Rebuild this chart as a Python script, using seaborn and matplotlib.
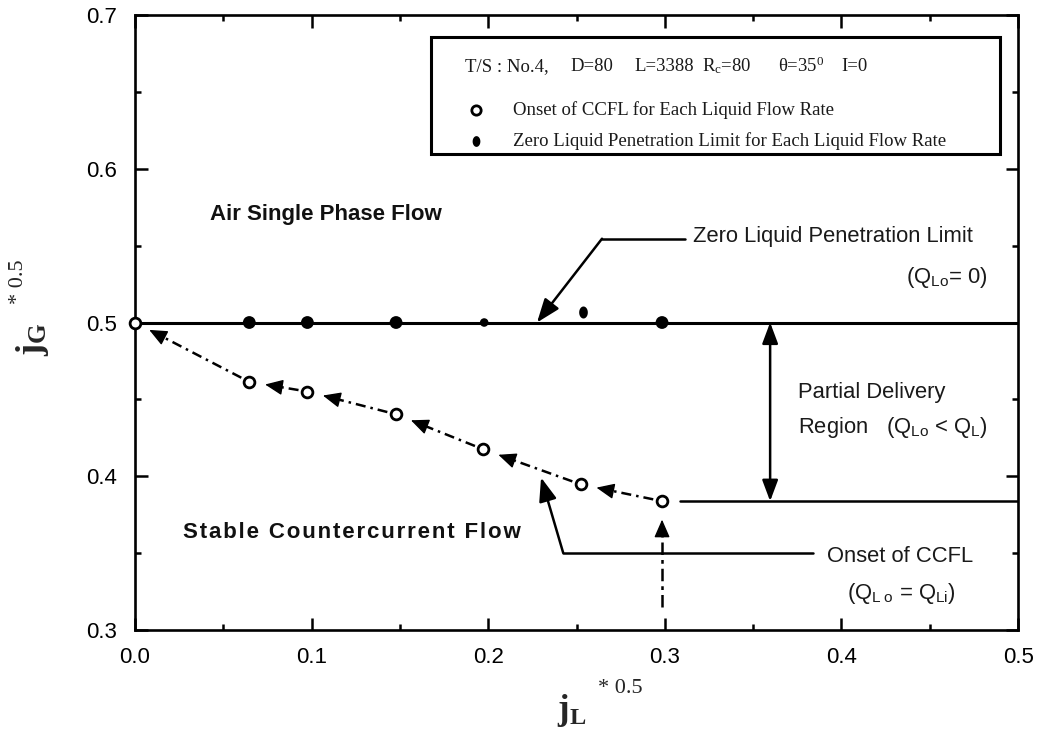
import numpy as np
import pandas as pd
import matplotlib
matplotlib.use("Agg")
import matplotlib.pyplot as plt
from matplotlib.ticker import MultipleLocator
from matplotlib.path import Path
import seaborn as sns

# Onset of CCFL for each liquid flow rate (open circles)
onset_jl = [0.0, 0.0647, 0.0976, 0.1478, 0.1972, 0.2524, 0.2984]
onset_jg = [0.500, 0.4614, 0.4551, 0.4403, 0.4175, 0.3947, 0.3838]

# Zero liquid penetration limit for each liquid flow rate (filled circles)
zlp_jl = [0.0647, 0.0976, 0.1478, 0.1977, 0.2984]
zlp_jg = [0.500, 0.500, 0.500, 0.500, 0.500]
zlp_kind = ["large", "large", "large", "small", "large"]
# one off-line reading, drawn as a slightly elongated dot
zlp_extra_jl = [0.2535]
zlp_extra_jg = [0.507]

zero_limit_jg = 0.5          # Q_Lo = 0 line
xticks = [0.0, 0.1, 0.2, 0.3, 0.4, 0.5]
yticks = [0.3, 0.4, 0.5, 0.6, 0.7]

sns.set_style("ticks")
plt.rcParams["font.family"] = ["Liberation Sans", "DejaVu Sans"]
plt.rcParams["mathtext.fontset"] = "custom"
plt.rcParams["mathtext.rm"] = "Liberation Serif"
plt.rcParams["mathtext.it"] = "Liberation Serif:italic"
plt.rcParams["mathtext.bf"] = "Liberation Serif:bold"
plt.rcParams["mathtext.sf"] = "Liberation Sans"

fig = plt.figure(figsize=(10.41, 7.29), dpi=100)
ax = fig.add_axes([0.1297, 0.1358, 0.8483, 0.8436])

ax.set_xlim(0.0, 0.5)
ax.set_ylim(0.3, 0.7)
ax.set_xticks(xticks)
ax.set_yticks(yticks)
ax.set_xticklabels([f"{v:.1f}" for v in xticks])
ax.set_yticklabels([f"{v:.1f}" for v in yticks])
ax.xaxis.set_minor_locator(MultipleLocator(0.05))
ax.yaxis.set_minor_locator(MultipleLocator(0.05))
ax.tick_params(which="both", direction="in", top=True, right=True,
               width=1.8, colors="black", labelsize=16)
ax.tick_params(which="major", length=9)
ax.tick_params(which="minor", length=4.5)
ax.tick_params(axis="x", pad=12)
ax.tick_params(axis="y", pad=13)
for sp in ax.spines.values():
    sp.set_linewidth(1.9)
    sp.set_color("black")


def dashdot_arrow(p, q, shrink_a=9, shrink_b=16, head_len=15,
                  dashes=(4, 2, 1, 2)):
    """Dash-dot shaft from p to q (data coords) with a solid filled head."""
    T = ax.transData
    P = T.transform(p)
    Q = T.transform(q)
    u = (Q - P) / np.hypot(*(Q - P))
    tip = Q - u * shrink_b
    start = P + u * shrink_a
    inv = T.inverted()
    s_d = inv.transform(start)
    b_d = inv.transform(tip - u * head_len * 0.6)
    ax.plot([s_d[0], b_d[0]], [s_d[1], b_d[1]], ls=(0, dashes), lw=1.8,
            color="black", solid_capstyle="butt", dash_capstyle="butt")
    ax.annotate("", xy=inv.transform(tip),
                xytext=inv.transform(tip - u * head_len),
                arrowprops=dict(arrowstyle="-|>,head_length=0.55,head_width=0.24",
                                lw=1.0, color="black", shrinkA=0, shrinkB=0,
                                mutation_scale=20))


# zero-penetration limit line and the onset level line on the right
ax.axhline(zero_limit_jg, color="black", lw=2.2, zorder=2)
ax.plot([0.3086, 0.5], [onset_jg[-1], onset_jg[-1]], color="black", lw=1.8)

# filled circles
zdf = pd.DataFrame({"jl": zlp_jl, "jg": zlp_jg, "kind": zlp_kind})
sns.scatterplot(data=zdf, x="jl", y="jg", size="kind",
                sizes={"large": 85, "small": 38}, color="black",
                edgecolor="black", linewidth=0, legend=False, ax=ax, zorder=4)
ellipse = Path([(0.72 * np.cos(t), np.sin(t)) for t in np.linspace(0, 2 * np.pi, 40)])
sns.scatterplot(x=zlp_extra_jl, y=zlp_extra_jg, marker=ellipse, s=75,
                color="black", edgecolor="black", linewidth=0, legend=False,
                ax=ax, zorder=4)

# open circles
sns.scatterplot(x=onset_jl, y=onset_jg, marker="o", s=60, facecolor="white",
                edgecolor="black", linewidth=2.0, legend=False, ax=ax,
                zorder=5, clip_on=False)

# dash-dot arrows running from each onset point to the previous one
for i in range(len(onset_jl) - 1, 0, -1):
    dashdot_arrow((onset_jl[i], onset_jg[i]), (onset_jl[i - 1], onset_jg[i - 1]))

txt_kw = dict(fontsize=15.8, color="#1a1a1a")

# Zero liquid penetration limit callout
ax.plot([0.3114, 0.2644], [0.5545, 0.5545], color="black", lw=1.8)
ax.annotate("", xy=(0.2276, 0.5), xytext=(0.2644, 0.5545),
            arrowprops=dict(arrowstyle="-|>,head_length=0.8,head_width=0.3",
                            lw=1.8, color="black", shrinkA=0, shrinkB=0,
                            mutation_scale=18))
ax.text(0.316, 0.556, "Zero Liquid Penetration Limit", ha="left",
        va="center", **txt_kw)
ax.text(0.4824, 0.529, r"(Q$_{\mathsf{Lo}}$= 0)", ha="right", va="center",
        **txt_kw)

# partial delivery region double arrow
ax.annotate("", xy=(0.3596, 0.5), xytext=(0.3596, onset_jg[-1]),
            arrowprops=dict(arrowstyle="<|-|>,head_length=0.8,head_width=0.3",
                            lw=1.8, color="black", shrinkA=0, shrinkB=0,
                            mutation_scale=16))
ax.text(0.3755, 0.4547, "Partial Delivery", ha="left", va="center", **txt_kw)
ax.text(0.3755, 0.4318, r"Region   (Q$_{\mathsf{Lo}}$ < Q$_{\mathsf{L}}$)",
        ha="left", va="center", **txt_kw)

# onset of CCFL callout
ax.plot([0.3839, 0.2424], [0.3503, 0.3503], color="black", lw=1.8)
ax.annotate("", xy=(0.2299, 0.3992), xytext=(0.2424, 0.3503),
            arrowprops=dict(arrowstyle="-|>,head_length=0.8,head_width=0.3",
                            lw=1.8, color="black", shrinkA=0, shrinkB=0,
                            mutation_scale=18))
ax.text(0.3918, 0.3478, "Onset of CCFL", ha="left", va="center", **txt_kw)
ax.text(0.434, 0.3238, r"(Q$_{\mathsf{L\ o}}$ = Q$_{\mathsf{Li}}$)",
        ha="center", va="center", **txt_kw)

# vertical dash-dot arrow at the highest liquid flow rate
dashdot_arrow((onset_jl[-1], 0.315), (onset_jl[-1], 0.3718), shrink_a=0,
              shrink_b=0, head_len=15, dashes=(5, 2, 1.5, 2))

# flow regime labels (the lower one set slightly letter-spaced)
ax.text(0.0425, 0.570, "Air Single Phase Flow", ha="left", va="center",
        fontsize=16, fontweight="bold", color="#111111")
ax.text(0.0272, 0.3635, "\u200a".join("Stable Countercurrent Flow"),
        ha="left", va="center", fontsize=16, fontweight="bold",
        color="#111111", family=["Liberation Sans", "DejaVu Sans"])

# legend box
ax.add_patch(plt.Rectangle((0.1676, 0.6093), 0.322, 0.0763, fill=False,
                           lw=2.2, edgecolor="black", zorder=6))
serif_kw = dict(family="Liberation Serif", fontsize=13.5, color="#1a1a1a",
                va="center", ha="left")
header = ["T/S : No.4,", "D=80", "L=3388", r"R$_{\mathrm{c}}$=80",
          r"θ=35$^{\mathrm{0}}$", "I=0"]
header_x = [0.1869, 0.2463, 0.2826, 0.3211, 0.3641, 0.3998]
for s, hx in zip(header, header_x):
    ax.text(hx, 0.6667, s, **serif_kw)
sns.scatterplot(x=[0.1931], y=[0.6385], marker="o", s=45, facecolor="white",
                edgecolor="black", linewidth=2.0, legend=False, ax=ax, zorder=7)
sns.scatterplot(x=[0.1931], y=[0.6178], marker=ellipse, s=60, color="black",
                linewidth=0, legend=False, ax=ax, zorder=7)
ax.text(0.214, 0.6385, "Onset of CCFL for Each Liquid Flow Rate", **serif_kw)
ax.text(0.214, 0.6178, "Zero Liquid Penetration Limit for Each Liquid Flow Rate",
        **serif_kw)

ax.set_xlabel("")
ax.set_ylabel("")
# axis titles: bold j with subscript, plus a raised "* 0.5"
fig.text(0.031, 0.535, r"$\mathbf{j}_{\mathbf{G}}$", rotation=90,
         ha="center", va="center", fontsize=26)
fig.text(0.018, 0.614, "* 0.5", family="Liberation Serif", rotation=90,
         ha="center", va="center", fontsize=16)
fig.text(0.549, 0.026, r"$\mathbf{j}_{\mathbf{L}}$", ha="center",
         va="center", fontsize=25)
fig.text(0.596, 0.056, "* 0.5", family="Liberation Serif", ha="center",
         va="center", fontsize=16)

fig.savefig("out.png", dpi=100)
